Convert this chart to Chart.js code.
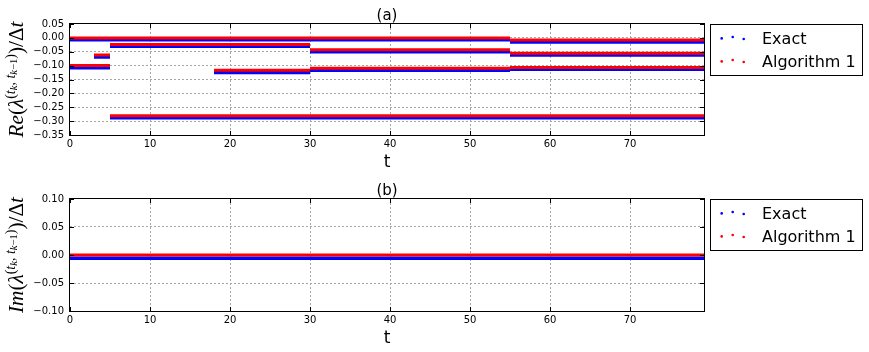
<!DOCTYPE html>
<html><head><meta charset="utf-8">
<script src="https://cdn.jsdelivr.net/npm/chart.js@4"></script>
<style>
html,body{margin:0;padding:0;background:#fff;}
#wrap{position:relative;width:869px;height:352px;overflow:hidden;}
.c{position:absolute;left:0;width:869px;height:176px;}
canvas{display:block;}
</style></head><body>
<div id="wrap">
<div class="c" style="top:0"><canvas id="ca" width="869" height="176"></canvas></div>
<div class="c" style="top:176px"><canvas id="cb" width="869" height="176"></canvas></div>
</div>
<script>
// ---------- data ----------
const T_MAX = 79.25;
// (a) real part: piecewise-constant segments [start t, end t]
const reSegStart = [0,    55,     5,      30,     55,     3,      0,      18,     30,     55,     5];
const reSegEnd   = [55,   T_MAX,  30,     55,     T_MAX,  5,      5,      30,     55,     T_MAX,  T_MAX];
const reExact    = [-0.007,-0.0145,-0.030,-0.050,-0.062,-0.069, -0.108, -0.1245,-0.1167,-0.113, -0.288];
const reAlg      = [0.000, -0.0075,-0.0235,-0.043,-0.055,-0.062, -0.0995,-0.117, -0.1095,-0.107, -0.2805];
// (b) imaginary part
const imSegStart = [0];
const imSegEnd   = [T_MAX];
const imExact    = [-0.006];
const imAlg      = [0.000];
// ticks
const xTicks   = [0, 10, 20, 30, 40, 50, 60, 70];
const reYTicks = [-0.35, -0.30, -0.25, -0.20, -0.15, -0.10, -0.05, 0.00, 0.05];
const imYTicks = [-0.10, -0.05, 0.00, 0.05, 0.10];
const seriesNames = ['Exact', 'Algorithm 1'];

// ---------- helpers ----------
function buildSegments(starts, ends, vals) {
  const out = [];
  for (let i = 0; i < vals.length; i++) {
    out.push({x: starts[i], y: vals[i]});
    out.push({x: ends[i], y: vals[i]});
    out.push({x: ends[i], y: null});
  }
  return out;
}
const MATH_FONT = '"Liberation Serif", "DejaVu Serif", serif';
function mathParts(prefix) {
  return [
    {t: prefix, f: 'i', l: 0}, {t: '(', f: 'n', l: 0}, {t: 'λ', f: 'i', l: 0},
    {t: '(', f: 'n', l: 1}, {t: 't', f: 'i', l: 1}, {t: 'k', f: 'i', l: 2},
    {t: ', ', f: 'n', l: 1}, {t: 't', f: 'i', l: 1}, {t: 'k', f: 'i', l: 2}, {t: '−1', f: 'n', l: 2},
    {t: ')', f: 'n', l: 1}, {t: ')', f: 'n', l: 0}, {t: '/', f: 'n', l: 0},
    {t: 'Δ', f: 'n', l: 0}, {t: 't', f: 'i', l: 0}
  ];
}
function partFont(p, S) {
  const size = p.l === 0 ? S : (p.l === 1 ? S * 0.66 : S * 0.5);
  return (p.f === 'i' ? 'italic ' : '') + size.toFixed(2) + 'px ' + MATH_FONT;
}
function partShift(p, S) {
  return p.l === 0 ? 0 : (p.l === 1 ? -0.36 * S : -0.24 * S);
}
function mathWidth(ctx, parts, S) {
  let w = 0;
  for (const p of parts) { ctx.font = partFont(p, S); w += ctx.measureText(p.t).width; }
  return w;
}
function drawMathLabel(ctx, parts, baseX, cy, targetLen) {
  let S = 17;
  const w0 = mathWidth(ctx, parts, S);
  S = S * targetLen / w0;
  const W = mathWidth(ctx, parts, S);
  ctx.save();
  ctx.translate(baseX, cy);
  ctx.rotate(-Math.PI / 2);
  ctx.fillStyle = '#000';
  ctx.textBaseline = 'alphabetic';
  ctx.textAlign = 'left';
  let x = -W / 2;
  for (const p of parts) {
    ctx.font = partFont(p, S);
    ctx.fillText(p.t, x, partShift(p, S));
    x += ctx.measureText(p.t).width;
  }
  ctx.restore();
}
function drawLegend(ctx, top) {
  ctx.save();
  ctx.strokeStyle = '#000';
  ctx.lineWidth = 1;
  ctx.strokeRect(710.5, top + 0.5, 152, 51);
  const rows = [
    {label: seriesNames[0], color: '#0000ff', y: top + 14},
    {label: seriesNames[1], color: '#ff0000', y: top + 37}
  ];
  const dx = [721.7, 732.7, 743.7], dy = [0.4, -1, 1];
  ctx.font = '16px "DejaVu Sans"';
  ctx.textBaseline = 'alphabetic';
  ctx.textAlign = 'left';
  for (const r of rows) {
    ctx.fillStyle = r.color;
    for (let i = 0; i < 3; i++) {
      ctx.beginPath(); ctx.arc(dx[i], r.y + dy[i], 1.3, 0, Math.PI * 2); ctx.fill();
    }
    ctx.fillStyle = '#000';
    ctx.fillText(r.label, 762, r.y + 5.5);
  }
  ctx.restore();
}
function fmtY(v) {
  const s = Math.abs(v) < 1e-9 ? '0.00' : v.toFixed(2);
  return s.replace('-', '\u2212');
}

function makeChart(id, opts) {
  const el = document.getElementById(id);
  const decor = {
    id: 'decor_' + id,
    afterDatasetsDraw(chart) {
      const ctx = chart.ctx;
      const a = chart.chartArea;
      const xs = chart.scales.x, ys = chart.scales.y;
      ctx.save();
      ctx.strokeStyle = '#000';
      ctx.lineWidth = 1;
      // inward tick marks
      ctx.beginPath();
      for (const v of xTicks) {
        const px = Math.round(xs.getPixelForValue(v)) + 0.5;
        ctx.moveTo(px, a.bottom); ctx.lineTo(px, a.bottom - 4);
        ctx.moveTo(px, a.top); ctx.lineTo(px, a.top + 4);
      }
      for (const v of opts.yTicks) {
        const py = Math.round(ys.getPixelForValue(v)) + 0.5;
        ctx.moveTo(a.left, py); ctx.lineTo(a.left + 4, py);
        ctx.moveTo(a.right, py); ctx.lineTo(a.right - 4, py);
      }
      ctx.stroke();
      // frame
      ctx.strokeRect(a.left - 0.5, a.top - 0.5, a.right - a.left + 1, a.bottom - a.top + 1);
      ctx.restore();
    },
    afterDraw(chart) {
      const ctx = chart.ctx;
      const a = chart.chartArea;
      const cx = (a.left + a.right) / 2;
      ctx.save();
      ctx.fillStyle = '#000';
      ctx.textAlign = 'center';
      ctx.textBaseline = 'alphabetic';
      ctx.font = '15px "DejaVu Sans"';
      ctx.fillText(opts.title, cx, a.top - 4.5);
      ctx.font = '17px "DejaVu Sans"';
      ctx.fillText('t', cx, a.bottom + 32);
      ctx.restore();
      drawMathLabel(ctx, mathParts(opts.prefix), 22.5, (a.top + a.bottom) / 2, 116);
      drawLegend(ctx, a.top);
    }
  };
  const edge = (ctx, lo, hi) => {
    const v = ctx.tick ? ctx.tick.value : null;
    if (v === null) return 'rgba(0,0,0,0)';
    if (Math.abs(v - lo) < 1e-9 || Math.abs(v - hi) < 1e-9) return 'rgba(0,0,0,0)';
    return '#a6a6a6';
  };
  return new Chart(el, {
    type: 'scatter',
    data: {
      datasets: [
        {label: seriesNames[1], data: buildSegments(opts.segStart, opts.segEnd, opts.alg),
         borderColor: '#ff0000', backgroundColor: '#ff0000', showLine: true, borderWidth: 3,
         pointRadius: 0, pointHoverRadius: 0, spanGaps: false, borderCapStyle: 'butt'},
        {label: seriesNames[0], data: buildSegments(opts.segStart, opts.segEnd, opts.exact),
         borderColor: '#0000ff', backgroundColor: '#0000ff', showLine: true, borderWidth: 3.5,
         pointRadius: 0, pointHoverRadius: 0, spanGaps: false, borderCapStyle: 'butt'}
      ]
    },
    options: {
      responsive: false,
      devicePixelRatio: 1,
      animation: false,
      events: [],
      layout: {padding: {left: 30, right: 165, top: opts.padTop, bottom: 21}},
      plugins: {legend: {display: false}, tooltip: {enabled: false}, title: {display: false}},
      scales: {
        x: {
          type: 'linear', min: 0, max: T_MAX,
          afterBuildTicks: s => { s.ticks = xTicks.map(v => ({value: v})); },
          afterFit: s => { s.height = 20; },
          grid: {color: c => edge(c, 0, T_MAX), drawTicks: false, lineWidth: 1},
          border: {display: false, dash: [2, 2]},
          ticks: {font: {family: 'DejaVu Sans', size: 10}, color: '#000', padding: 3,
                  maxRotation: 0, autoSkip: false, callback: v => String(v)}
        },
        y: {
          type: 'linear', min: opts.yMin, max: opts.yMax,
          afterBuildTicks: s => { s.ticks = opts.yTicks.map(v => ({value: v})); },
          afterFit: s => { s.width = 40; },
          grid: {color: c => edge(c, opts.yMin, opts.yMax), drawTicks: false, lineWidth: 1},
          border: {display: false, dash: [2, 2]},
          ticks: {font: {family: 'DejaVu Sans', size: 10}, color: '#000', padding: 6,
                  autoSkip: false, callback: v => fmtY(v)}
        }
      }
    },
    plugins: [decor]
  });
}

makeChart('ca', {segStart: reSegStart, segEnd: reSegEnd, exact: reExact, alg: reAlg,
  yMin: -0.35, yMax: 0.05, yTicks: reYTicks, padTop: 24, title: '(a)', prefix: 'Re'});
makeChart('cb', {segStart: imSegStart, segEnd: imSegEnd, exact: imExact, alg: imAlg,
  yMin: -0.10, yMax: 0.10, yTicks: imYTicks, padTop: 23, title: '(b)', prefix: 'Im'});
</script>
</body></html>
